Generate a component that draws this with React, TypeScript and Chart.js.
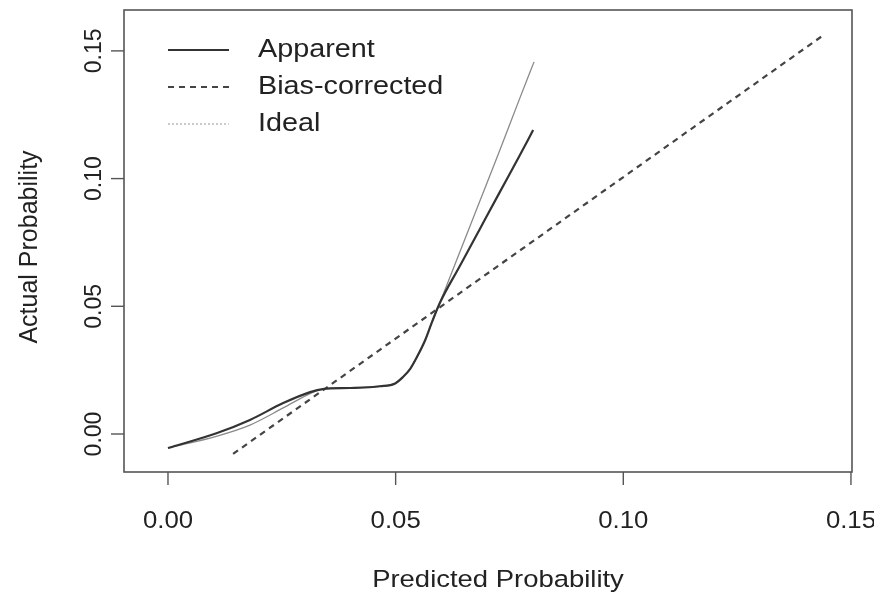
import React, { useEffect, useRef } from "react";
import { Chart, registerables } from "chart.js";

Chart.register(...registerables);

// ---- data ----
const xTickValues = [0, 0.05, 0.1, 0.15];
const yTickValues = [0, 0.05, 0.1, 0.15];

const apparentX = [0, 0.0108, 0.018, 0.0253, 0.0312, 0.034, 0.04, 0.0466, 0.0499, 0.0516, 0.0532, 0.0547, 0.0565, 0.058, 0.0597, 0.0641, 0.0685, 0.0729, 0.0773, 0.0802];
const apparentY = [-0.0055, 0.0004, 0.0055, 0.0121, 0.0164, 0.0176, 0.018, 0.0187, 0.0198, 0.0223, 0.0255, 0.0302, 0.0368, 0.0439, 0.0513, 0.0658, 0.0803, 0.0948, 0.1092, 0.119];

const idealX = [0, 0.0108, 0.018, 0.0253, 0.0319, 0.034, 0.04, 0.0466, 0.0499, 0.0516, 0.0532, 0.0547, 0.0565, 0.058, 0.0597, 0.0641, 0.0685, 0.0729, 0.0773, 0.0804];
const idealY = [-0.0055, -0.0008, 0.0035, 0.0102, 0.0164, 0.0176, 0.018, 0.0187, 0.0198, 0.0223, 0.0255, 0.0302, 0.0368, 0.0439, 0.0513, 0.0713, 0.0912, 0.1112, 0.1316, 0.1457];

const biasX = [0.0143, 0.1443];
const biasY = [-0.0078, 0.1566];

const legendLabels = ["Apparent", "Bias-corrected", "Ideal"];
const xTitle = "Predicted Probability";
const yTitle = "Actual Probability";

const FONT = '"Liberation Sans", Arial, Helvetica, sans-serif';

function toPoints(xs: number[], ys: number[]) {
  return xs.map((x, i) => ({ x, y: ys[i] }));
}

function drawText(
  ctx: CanvasRenderingContext2D,
  text: string,
  x: number,
  y: number,
  size: number,
  sx: number,
  align: CanvasTextAlign,
  rotate = 0
) {
  ctx.save();
  ctx.translate(x, y);
  if (rotate) ctx.rotate(rotate);
  ctx.scale(sx, 1);
  ctx.font = `${size}px ${FONT}`;
  ctx.fillStyle = "#222";
  ctx.textAlign = align;
  ctx.textBaseline = "middle";
  ctx.fillText(text, 0, 0);
  ctx.restore();
}

const framePlugin = {
  id: "rframe",
  afterDraw(chart: any) {
    const ctx: CanvasRenderingContext2D = chart.ctx;
    const { left, right, top, bottom } = chart.chartArea;
    const xs = chart.scales.x;
    const ys = chart.scales.y;
    ctx.save();
    // box
    ctx.strokeStyle = "#555";
    ctx.lineWidth = 1.6;
    ctx.setLineDash([]);
    ctx.strokeRect(left, top, right - left, bottom - top);
    // x ticks
    ctx.lineWidth = 1.4;
    xTickValues.forEach((v) => {
      const px = xs.getPixelForValue(v);
      ctx.beginPath();
      ctx.moveTo(px, bottom);
      ctx.lineTo(px, bottom + 13);
      ctx.stroke();
      drawText(ctx, v.toFixed(2), px, bottom + 50, 23, 1.12, "center");
    });
    // y ticks
    yTickValues.forEach((v) => {
      const py = ys.getPixelForValue(v);
      ctx.beginPath();
      ctx.moveTo(left, py);
      ctx.lineTo(left - 13, py);
      ctx.stroke();
      drawText(ctx, v.toFixed(2), left - 29, py, 23, 1.0, "center", -Math.PI / 2);
    });
    // titles
    drawText(ctx, xTitle, 498, 580, 24.5, 1.12, "center");
    drawText(ctx, yTitle, 30, 247, 25, 1.0, "center", -Math.PI / 2);
    // legend
    const styles = [
      { color: "#333", width: 2, dash: [] as number[] },
      { color: "#444", width: 2, dash: [6, 5] },
      { color: "#aaa", width: 1.2, dash: [2, 2] },
    ];
    legendLabels.forEach((label, i) => {
      const y = 50 + i * 37;
      const s = styles[i];
      ctx.strokeStyle = s.color;
      ctx.lineWidth = s.width;
      ctx.setLineDash(s.dash);
      ctx.beginPath();
      ctx.moveTo(168, y);
      ctx.lineTo(229, y);
      ctx.stroke();
      ctx.setLineDash([]);
      drawText(ctx, label, 258, y, 25, 1.15, "left");
    });
    ctx.restore();
  },
};

export default function App() {
  const ref = useRef<HTMLCanvasElement>(null);
  useEffect(() => {
    if (!ref.current) return;
    const chart = new Chart(ref.current, {
      type: "scatter",
      data: {
        datasets: [
          {
            label: legendLabels[0],
            data: toPoints(apparentX, apparentY),
            showLine: true,
            borderColor: "#333",
            borderWidth: 2.2,
            pointRadius: 0,
            cubicInterpolationMode: "monotone",
          },
          {
            label: legendLabels[2],
            data: toPoints(idealX, idealY),
            showLine: true,
            borderColor: "#8a8a8a",
            borderWidth: 1.3,
            pointRadius: 0,
            cubicInterpolationMode: "monotone",
          },
          {
            label: legendLabels[1],
            data: toPoints(biasX, biasY),
            showLine: true,
            borderColor: "#444",
            borderWidth: 2.2,
            borderDash: [6, 5],
            pointRadius: 0,
          },
        ],
      },
      options: {
        responsive: false,
        animation: false,
        devicePixelRatio: 1,
        layout: { padding: { left: 124, right: 22, top: 10, bottom: 129 } },
        plugins: { legend: { display: false }, tooltip: { enabled: false } },
        scales: {
          x: { type: "linear", display: false, min: -0.00966, max: 0.15023 },
          y: { type: "linear", display: false, min: -0.01488, max: 0.16601 },
        },
      },
      plugins: [framePlugin],
    });
    return () => chart.destroy();
  }, []);
  return (
    <div style={{ position: "absolute", left: 0, top: 0, width: 874, height: 601, background: "#fff" }}>
      <canvas ref={ref} width={874} height={601} style={{ width: 874, height: 601 }} />
    </div>
  );
}
